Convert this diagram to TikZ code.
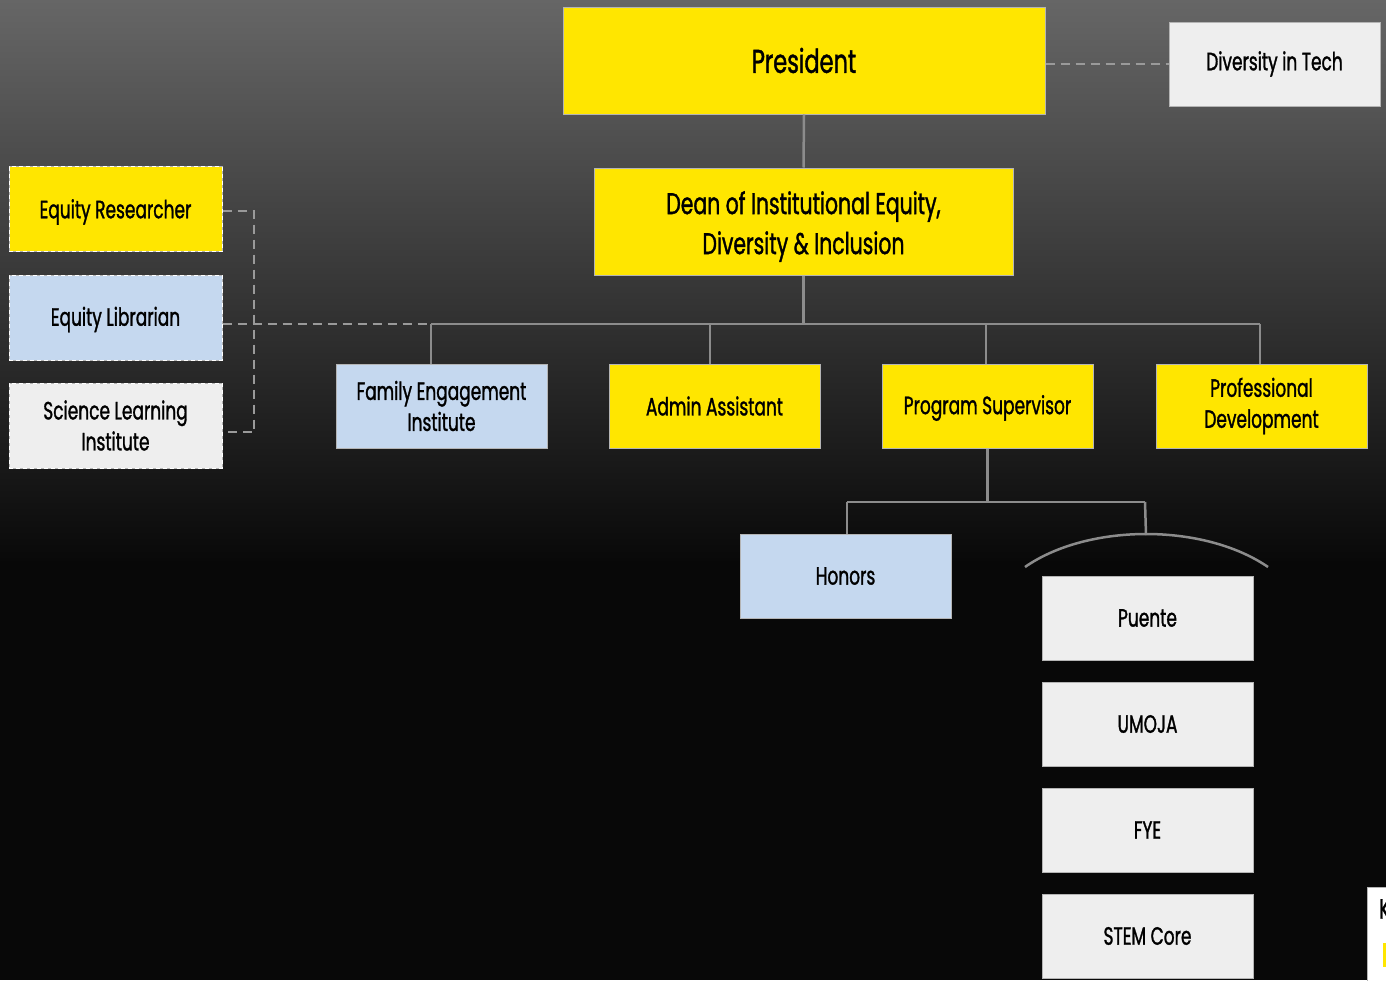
\documentclass[tikz,border=0pt]{standalone}
\usepackage{fontspec}
\setmainfont{Poppins}[FakeStretch=0.68, FakeBold=1.2]
\definecolor{ylw}{HTML}{FFE600}
\definecolor{lblue}{HTML}{C5D8EF}
\definecolor{lgray}{HTML}{EEEEEE}
\definecolor{conn}{HTML}{8C8C8C}
\definecolor{dconn}{HTML}{9A9A9A}
\definecolor{bord}{HTML}{B4B4B4}
\begin{document}
\begin{tikzpicture}[x=1pt,y=-1pt,
  box/.style={draw=bord, line width=1pt, minimum width=211pt, minimum height=84pt, inner sep=0pt, align=center, font=\fontsize{25}{31}\selectfont, text=black},
  dbox/.style={box, minimum width=213pt, minimum height=85pt, postaction={draw=white, dash pattern=on 4pt off 3pt, line width=0.9pt}},
  solidline/.style={draw=conn, line width=2.5pt},
  dashline/.style={draw=dconn, line width=2.5pt, dash pattern=on 9pt off 6pt},
]
\useasboundingbox (0,0) rectangle (1386,980);
\clip (0,0) rectangle (1386,980);
% background
\fill[black!97] (0,0) rectangle (1386,980);
\shade[top color={rgb,255:red,102;green,102;blue,102}, bottom color={rgb,255:red,9;green,9;blue,9}] (0,0) rectangle (1386,560);

% nodes
\node[box, fill=ylw, minimum width=482pt, minimum height=107pt, font=\fontsize{33}{38}\selectfont] (pres) at (804,60.5) {President};
\node[box, fill=lgray] (dit) at (1274.5,64) {Diversity in Tech};
\node[box, fill=ylw, minimum width=419pt, minimum height=107pt,
  label={[font=\fontsize{30}{40}\selectfont, align=center, text=black, yshift=-5pt]center:Dean of Institutional Equity,\\Diversity \& Inclusion}] (dean) at (803.5,221.5) {};

\node[dbox, fill=ylw, label={[font=\fontsize{25}{31}\selectfont, text=black, yshift=-3pt]center:Equity Researcher}] (er) at (115.5,209) {};
\node[dbox, fill=lblue, label={[font=\fontsize{25}{31}\selectfont, text=black, yshift=-2pt]center:Equity Librarian}] (el) at (115.5,317.5) {};
\node[dbox, fill=lgray] (sli) at (115.5,425.5) {Science Learning\\Institute};

\node[box, fill=lblue] (fei) at (441.5,406) {Family Engagement\\Institute};
\node[box, fill=ylw] (aa) at (714.5,406) {Admin Assistant};
\node[box, fill=ylw, label={[font=\fontsize{25}{31}\selectfont, text=black, yshift=-2pt]center:Program Supervisor}] (ps) at (987.5,406) {};
\node[box, fill=ylw] (pd) at (1261.5,406) {Professional\\Development};

\node[box, fill=lblue] (hon) at (845.5,576) {Honors};
\node[box, fill=lgray] (pue) at (1147.5,618) {Puente};
\node[box, fill=lgray] (umo) at (1147.5,724) {UMOJA};
\node[box, fill=lgray] (fye) at (1147.5,830) {FYE};
\node[box, fill=lgray] (stem) at (1147.5,936) {STEM Core};

% partial box at the bottom right
\node[box, fill=white, anchor=north west, minimum width=120pt, minimum height=120pt] (kbox) at (1367,887) {};
\node[anchor=north west, inner sep=0pt, font=\fontsize{28}{30}\selectfont, text=black] (ktext) at ([shift={(12,12)}]kbox.north west) {K};
\fill[ylw] ([shift={(16,56)}]kbox.north west) rectangle ([shift={(24,80)}]kbox.north west);

% coordinates
\coordinate (busL) at (431,324);
\coordinate (busR) at (1260,324);
\coordinate (busA) at (710,324);
\coordinate (busP) at (986,324);
\coordinate (b1) at (254,211);
\coordinate (b2) at (254,432);
\coordinate (h1) at (847,502);
\coordinate (h2) at (1145,502);
\coordinate (arcT) at (1146,535);
\coordinate (arcL) at (1025,567);
\coordinate (arcR) at (1268,567);
\coordinate (arcC1) at (1088,523);
\coordinate (arcC2) at (1204,523);

% solid connectors
\draw[solidline] (pres.south) -- (dean.north);
\draw[solidline] (dean.south) -- (dean.south |- busL);
\draw[solidline] (busL) -- (busR);
\draw[solidline] (busL) -- (busL |- fei.north);
\draw[solidline] (busA) -- (busA |- aa.north);
\draw[solidline] (busP) -- (busP |- ps.north);
\draw[solidline] (busR) -- (busR |- pd.north);
\draw[solidline] (ps.south) -- (ps.south |- h1);
\draw[solidline] (h1) -- (h2);
\draw[solidline] (h1) -- (h1 |- hon.north);
\draw[solidline] (h2) -- (arcT);
\draw[solidline] (arcL) .. controls (arcC1) and (arcC2) .. (arcR);

% dashed connectors
\draw[dashline] (dit.west -| pres.east) -- (dit.west);
\draw[dashline] (el.east |- busL) -- (busL);
\draw[dashline] (er.east |- b1) -- (b1) -- (b2) -- (sli.east |- b2);
\end{tikzpicture}
\end{document}
